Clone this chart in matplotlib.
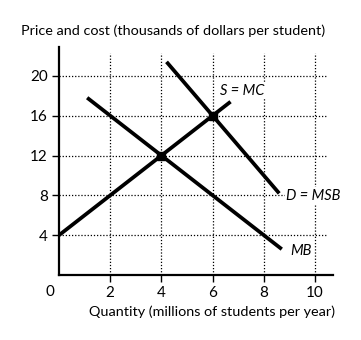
import matplotlib.pyplot as plt

# supply, demand (marginal social benefit) and private marginal benefit
s_mc_x = [0, 6.7]
s_mc_y = [4, 17.4]
d_msb_x = [4.2, 8.6]
d_msb_y = [21.4, 8.2]
mb_x = [1.1, 8.7]
mb_y = [17.8, 2.6]
eq_x = [4, 6]
eq_y = [12, 16]

x_ticks = [2, 4, 6, 8, 10]
y_ticks = [4, 8, 12, 16, 20]

plt.rcParams['font.family'] = ['Lato', 'DejaVu Sans']

fig = plt.figure(figsize=(3.61, 3.4), dpi=100)
ax = fig.add_axes([0.1634, 0.191, 0.759, 0.671])

# dotted grid
for yv in y_ticks:
    ax.plot([0, 10.45], [yv, yv], color='black', lw=0.9, ls=(0, (1, 1.5)), zorder=1)
for xv in x_ticks:
    ax.plot([xv, xv], [0, 22.3], color='black', lw=0.9, ls=(0, (1, 1.5)), zorder=1)

ax.plot(s_mc_x, s_mc_y, color='black', lw=2.7, solid_capstyle='butt', zorder=3)
ax.plot(d_msb_x, d_msb_y, color='black', lw=2.7, solid_capstyle='butt', zorder=3)
ax.plot(mb_x, mb_y, color='black', lw=2.7, solid_capstyle='butt', zorder=3)
ax.plot(eq_x, eq_y, 's', color='black', ms=6, zorder=4)

box = dict(facecolor='white', edgecolor='none', pad=1)
ax.text(6.28, 18.5, 'S = MC', style='italic', fontsize=10.5, va='center', bbox=box, zorder=2)
ax.text(8.87, 7.95, 'D = MSB', style='italic', fontsize=10.5, va='center', bbox=box, zorder=2)
ax.text(9.02, 2.4, 'MB', style='italic', fontsize=10.5, va='center', bbox=box, zorder=2)

ax.set_xlim(0, 10.7)
ax.set_ylim(0, 22.9)
ax.set_xticks(x_ticks)
ax.set_yticks(y_ticks)
ax.tick_params(labelsize=11, length=5, width=1, pad=3)
for side in ['top', 'right']:
    ax.spines[side].set_visible(False)
for side in ['left', 'bottom']:
    ax.spines[side].set_linewidth(1.6)

ax.text(-0.35, -1.75, '0', fontsize=11, ha='center', va='center')
fig.text(0.058, 0.91, 'Price and cost (thousands of dollars per student)', fontsize=10.4, va='center')
fig.text(0.587, 0.082, 'Quantity (millions of students per year)', fontsize=10.4, ha='center', va='center')

fig.savefig('out.png', dpi=100)
